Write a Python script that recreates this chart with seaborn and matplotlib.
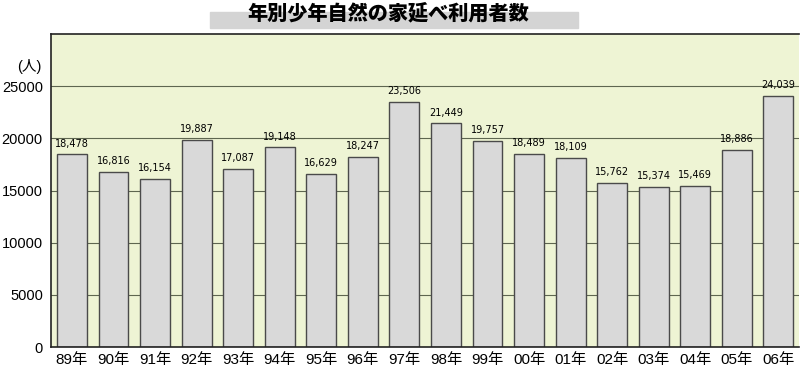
import numpy as np
import pandas as pd
import matplotlib
matplotlib.use('Agg')
import matplotlib.pyplot as plt
import seaborn as sns
from matplotlib.patches import Rectangle

years = ['89年', '90年', '91年', '92年', '93年', '94年', '95年', '96年', '97年',
         '98年', '99年', '00年', '01年', '02年', '03年', '04年', '05年', '06年']
users = [18478, 16816, 16154, 19887, 17087, 19148, 16629, 18247, 23506,
         21449, 19757, 18489, 18109, 15762, 15374, 15469, 18886, 24039]
yticks = [0, 5000, 10000, 15000, 20000, 25000]

df = pd.DataFrame({'year': years, 'users': users})

sns.set_style('white')
plt.rcParams['font.family'] = ['Liberation Sans', 'Noto Sans CJK JP', 'DejaVu Sans']
plt.rcParams['text.color'] = 'black'
plt.rcParams['xtick.color'] = 'black'
plt.rcParams['ytick.color'] = 'black'

fig = plt.figure(figsize=(8, 3.7), dpi=100, facecolor='white')
ax = fig.add_axes([0.064, 0.062, 0.935, 0.846])
ax.set_facecolor('#EEF4D4')

# grid lines behind bars
for v in yticks[1:]:
    ax.axhline(v, color='#5E6650', lw=0.8, zorder=0)

sns.barplot(data=df, x='year', y='users', color='#D9D9D9', edgecolor='#4A4A4A',
            linewidth=1, width=0.72, saturation=1, ax=ax, zorder=2)

ax.set_ylim(0, 30000)
ax.set_xlim(-0.5, len(years) - 0.5)
ax.set_yticks(yticks)
ax.set_yticklabels([str(v) for v in yticks], fontsize=10.5)
ax.tick_params(axis='x', labelsize=11, length=0, pad=4)
ax.tick_params(axis='y', length=0, pad=6)
ax.set_xlabel('')
ax.set_ylabel('')

for s in ['left', 'top', 'bottom']:
    ax.spines[s].set_color('#222222')
    ax.spines[s].set_linewidth(1.2)
ax.spines['right'].set_visible(False)

# value labels
for i, v in enumerate(users):
    ax.text(i, v + 550, f'{v:,}', ha='center', va='bottom', fontsize=7,
            family=['Liberation Sans Narrow', 'DejaVu Sans'], color='black', zorder=3)

# unit label
fig.text(0.037, 0.82, '(人)', ha='center', va='center', fontsize=10.5)

# title with grey band
fig.patches.append(Rectangle((210 / 800, 1 - 28 / 370), 368 / 800, 16 / 370,
                             transform=fig.transFigure, color='#D4D4D4', zorder=0))
fig.text(388 / 800, 1 - 13 / 370, '年別少年自然の家延べ利用者数', ha='center', va='center',
         fontsize=14.5, fontweight='heavy', family=['Noto Sans CJK JP'], zorder=2)

plt.savefig('out.png', dpi=100, facecolor='white')
